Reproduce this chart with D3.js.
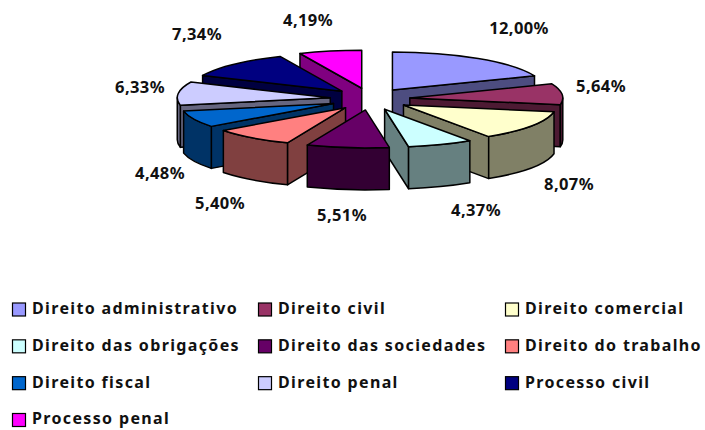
<!DOCTYPE html>
<html>
<head>
<meta charset="utf-8">
<script src="https://cdnjs.cloudflare.com/ajax/libs/d3/7.8.5/d3.min.js"></script>
<style>
    html, body { margin: 0; padding: 0; background: #fff; }
    svg { display: block; }
    text { font-family: "Noto Sans", sans-serif; font-weight: bold; fill: #111; }
</style>
</head>
<body>
<script>
// Chart data
var categories = ["Direito administrativo", "Direito civil", "Direito comercial",
    "Direito das obrigações", "Direito das sociedades", "Direito do trabalho",
    "Direito fiscal", "Direito penal", "Processo civil", "Processo penal"];
var values = [12.00, 5.64, 8.07, 4.37, 5.51, 5.40, 4.48, 6.33, 7.34, 4.19];
var valueLabels = ["12,00%", "5,64%", "8,07%", "4,37%", "5,51%", "5,40%", "4,48%", "6,33%", "7,34%", "4,19%"];
var colors = ["#9999ff", "#993366", "#ffffcc", "#ccffff", "#660066", "#ff8080", "#0066cc", "#ccccff", "#000080", "#ff00ff"];

// Layout of the labels, placed by hand in the original
var labelCentres = [[519, 28], [601, 86], [569, 184], [476, 210], [342, 215], [220, 203], [160, 173], [140, 87], [197, 34], [308, 20]];

var width = 705, height = 430;
var cx = 370, cy = 99;
var rx = 153, ry = 38;
var depth = 42;
var explodeX = 40, explodeY = 11;

var svg = d3.select("body").append("svg")
    .attr("width", width)
    .attr("height", height);

var pie = d3.pie().sort(null);
var slices = pie(values);

// unit disk to screen
var x = d3.scaleLinear().domain([-1, 1]).range([-rx, rx]);
var y = d3.scaleLinear().domain([-1, 1]).range([-ry, ry]);

function apex(d) {
    var mid = (d.startAngle + d.endAngle) / 2;
    return [cx + explodeX * Math.sin(mid), cy - explodeY * Math.cos(mid)];
}

function rim(d, angle, dy) {
    var a = apex(d);
    return [a[0] + x(Math.sin(angle)), a[1] + y(-Math.cos(angle)) + (dy || 0)];
}

function arcTo(p, sweep) {
    return "A" + rx + "," + ry + " 0 0 " + sweep + " " + p[0] + "," + p[1];
}

function topPath(d) {
    var a = apex(d);
    return "M" + a + "L" + rim(d, d.startAngle) + arcTo(rim(d, d.endAngle), 1) + "Z";
}

// the cut face that looks at the viewer, a slice has at most one
function wallPath(d) {
    var angle;
    if (Math.sin(d.endAngle) > 0) angle = d.endAngle;
    else if (Math.sin(d.startAngle) < 0) angle = d.startAngle;
    else return null;
    var a = apex(d), p = rim(d, angle);
    return "M" + a + "L" + p + "L" + [p[0], p[1] + depth] + "L" + [a[0], a[1] + depth] + "Z";
}

// the curved outside, only the part that faces the viewer
function sidePath(d) {
    var a0 = Math.max(d.startAngle, Math.PI / 2);
    var a1 = Math.min(d.endAngle, Math.PI * 3 / 2);
    if (a1 <= a0) return null;
    return "M" + rim(d, a0) + arcTo(rim(d, a1), 1) +
        "L" + rim(d, a1, depth) + arcTo(rim(d, a0, depth), 0) + "Z";
}

function shade(c) {
    var k = d3.rgb(c);
    return d3.rgb(k.r / 2, k.g / 2, k.b / 2).formatHex();
}

// back slices first, the one nearest the bottom last
var order = slices.slice().sort(function (a, b) {
    var ma = Math.abs((a.startAngle + a.endAngle) / 2 - Math.PI);
    var mb = Math.abs((b.startAngle + b.endAngle) / 2 - Math.PI);
    return mb - ma;
});

var pieces = svg.append("g")
    .selectAll("g")
    .data(order)
    .enter().append("g")
    .attr("stroke", "#000")
    .attr("stroke-width", 1.5)
    .attr("stroke-linejoin", "round");

pieces.filter(function (d) { return wallPath(d) !== null; })
    .append("path")
    .attr("d", wallPath)
    .attr("fill", function (d) { return shade(colors[d.index]); });

pieces.filter(function (d) { return sidePath(d) !== null; })
    .append("path")
    .attr("d", sidePath)
    .attr("fill", function (d) { return shade(colors[d.index]); });

pieces.append("path")
    .attr("d", topPath)
    .attr("fill", function (d) { return colors[d.index]; });

// value labels
svg.append("g")
    .selectAll("text")
    .data(valueLabels)
    .enter().append("text")
    .attr("x", function (d, i) { return labelCentres[i][0]; })
    .attr("y", function (d, i) { return labelCentres[i][1]; })
    .attr("dy", "0.36em")
    .attr("text-anchor", "middle")
    .style("font-size", "16.5px")
    .style("letter-spacing", "0.4px")
    .text(function (d) { return d; });

// legend
var col = d3.scaleOrdinal().domain([0, 1, 2]).range([12, 258, 505]);
var row = d3.scaleLinear().domain([0, 3]).range([309.5, 420]);

var legend = svg.append("g")
    .selectAll("g")
    .data(categories)
    .enter().append("g")
    .attr("transform", function (d, i) {
        return "translate(" + col(i % 3) + "," + row(Math.floor(i / 3)) + ")";
    });

legend.append("rect")
    .attr("x", 0.5)
    .attr("y", -6.5)
    .attr("width", 13)
    .attr("height", 13)
    .attr("fill", function (d, i) { return colors[i]; })
    .attr("stroke", "#000")
    .attr("stroke-width", 1.2);

legend.append("text")
    .attr("x", 20)
    .attr("dy", "0.28em")
    .style("font-size", "16px")
    .style("letter-spacing", "1.35px")
    .text(function (d) { return d; });
</script>
</body>
</html>
